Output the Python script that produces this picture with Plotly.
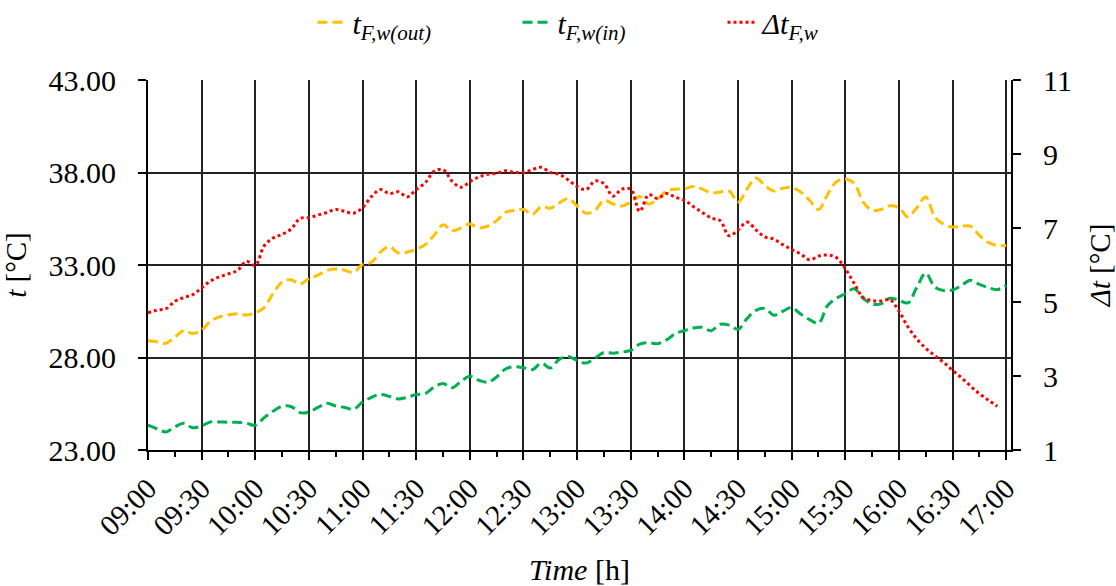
import plotly.graph_objects as go

# 5-minute readings, 09:00 .. 17:00
t_out = [28.9, 28.85, 28.77, 29.1, 29.45, 29.3, 29.49, 29.97, 30.2, 30.3, 30.37, 30.3,
         30.42, 30.7, 31.47, 32.08, 32.2, 31.96, 32.26, 32.45, 32.7, 32.78, 32.72, 32.6,
         33.03, 33.15, 33.7, 34.0, 33.65, 33.7, 33.85, 34.1, 34.6, 35.17, 34.85, 35.0,
         35.21, 35.0, 35.1, 35.4, 35.85, 35.95, 36.0, 35.74, 36.15, 36.07, 36.35, 36.6,
         36.19, 35.8, 35.95, 36.5, 36.3, 36.19, 36.4, 36.7, 36.3, 36.55, 37.0, 37.1,
         37.12, 37.25, 37.1, 36.9, 36.95, 37.0, 36.4, 37.1, 37.7, 37.3, 37.0, 37.15,
         37.2, 36.95, 36.5, 36.0, 36.8, 37.5, 37.65, 37.4, 36.4, 35.95, 36.0, 36.2,
         36.1, 35.6, 36.1, 36.67, 35.6, 35.2, 35.05, 35.1, 35.1, 34.6, 34.22, 34.05,
         34.05]
t_in = [24.34, 24.15, 23.98, 24.25, 24.45, 24.2, 24.3, 24.52, 24.52, 24.5, 24.5, 24.45,
        24.34, 24.75, 25.1, 25.36, 25.35, 25.02, 25.05, 25.3, 25.52, 25.38, 25.3, 25.2,
        25.59, 25.85, 26.0, 25.9, 25.76, 25.85, 26.0, 26.05, 26.4, 26.6, 26.36, 26.7,
        26.98, 26.77, 26.66, 26.95, 27.38, 27.5, 27.45, 27.34, 27.7, 27.43, 27.9, 28.06,
        27.84, 27.7, 27.97, 28.27, 28.23, 28.3, 28.38, 28.72, 28.8, 28.75, 28.95, 29.3,
        29.45, 29.6, 29.63, 29.45, 29.8, 29.75, 29.52, 30.1, 30.55, 30.65, 30.29, 30.5,
        30.7, 30.35, 30.05, 29.85, 30.8, 31.2, 31.45, 31.72, 31.2, 30.9, 30.9, 31.2,
        31.1, 30.95, 31.8, 32.56, 31.81, 31.62, 31.65, 31.9, 32.17, 31.95, 31.78, 31.67,
        31.9]
dt = [4.71, 4.78, 4.82, 5.02, 5.12, 5.2, 5.38, 5.57, 5.68, 5.76, 5.85, 6.1,
      5.99, 6.52, 6.73, 6.83, 6.97, 7.26, 7.28, 7.35, 7.42, 7.5, 7.45, 7.4,
      7.55, 7.85, 8.04, 7.93, 7.98, 7.84, 8.04, 8.22, 8.53, 8.58, 8.27, 8.1,
      8.25, 8.38, 8.45, 8.48, 8.55, 8.5, 8.5, 8.58, 8.64, 8.5, 8.45, 8.3,
      8.12, 8.04, 8.27, 8.2, 7.86, 8.05, 8.05, 7.45, 7.9, 7.8, 7.93, 7.83,
      7.75, 7.58, 7.42, 7.27, 7.2, 6.79, 6.95, 7.16, 6.95, 6.76, 6.7, 6.55,
      6.42, 6.3, 6.14, 6.24, 6.27, 6.2, 5.9, 5.5, 5.12, 5.04, 5.03, 5.06,
      4.75, 4.33, 4.0, 3.75, 3.55, 3.37, 3.15, 2.95, 2.73, 2.52, 2.35, 2.18]

times = ["2024-01-01 %02d:%02d:00" % (9 + (5 * i) // 60, (5 * i) % 60) for i in range(len(t_out))]

left_ticks = [23, 28, 33, 38, 43]
right_ticks = [1, 3, 5, 7, 9, 11]

FONT = "Liberation Serif"
fig = go.Figure()
fig.add_trace(go.Scatter(x=times, y=t_out, mode="lines",
                         name="<i>t</i><sub><i>F,w(out)</i></sub>",
                         line=dict(color="#FFC000", width=3, dash="10px,5px", shape="spline", smoothing=1)))
fig.add_trace(go.Scatter(x=times, y=t_in, mode="lines",
                         name="<i>t</i><sub><i>F,w(in)</i></sub>",
                         line=dict(color="#00B050", width=3, dash="10px,5px", shape="spline", smoothing=1)))
fig.add_trace(go.Scatter(x=times[:len(dt)], y=dt, mode="lines", yaxis="y2",
                         name="<i>Δt</i><sub><i>F,w</i></sub>",
                         line=dict(color="#FF0000", width=3, dash="3px,3px", shape="spline", smoothing=1)))

fig.update_layout(
    width=1116, height=586,
    margin=dict(l=147.5, r=104.5, t=80, b=136),
    paper_bgcolor="white", plot_bgcolor="white",
    font=dict(family=FONT, size=28, color="black"),
    showlegend=True,
    legend=dict(orientation="h", x=0.280, xanchor="left", xref="container",
                y=0.962, yanchor="middle", yref="container",
                font=dict(family=FONT, size=30), entrywidth=160, entrywidthmode="pixels",
                traceorder="normal", bgcolor="rgba(0,0,0,0)"),
    xaxis=dict(type="date", range=["2024-01-01 09:00:00", "2024-01-01 17:02:40"],
               dtick=1800000, tick0="2024-01-01 09:00:00", tickformat="%H:%M",
               tickangle=-45, ticks="outside", ticklen=8, tickcolor="black", tickwidth=1.5,
               showline=True, linecolor="black", linewidth=2, automargin=False,
               showgrid=True, gridcolor="#222", gridwidth=1.5,
               minor=dict(dtick=900000, ticks="outside", ticklen=5, tickcolor="black", showgrid=False),
               tickfont=dict(family=FONT, size=29),
               title=dict(text="<i>Time</i> [h]", font=dict(family=FONT, size=30), standoff=22)),
    yaxis=dict(range=[23, 43], tickvals=left_ticks, tickformat=".2f",
               ticks="outside", ticklen=8, tickcolor="black", tickwidth=1.5,
               showline=True, linecolor="black", linewidth=2, automargin=False,
               showgrid=True, gridcolor="#222", gridwidth=1.5, zeroline=False,
               tickfont=dict(family=FONT, size=30), ticklabelstandoff=16,
               title=dict(text="<i>t</i> [°C]", font=dict(family=FONT, size=29), standoff=18)),
    yaxis2=dict(range=[1, 11], tickvals=right_ticks, overlaying="y", side="right",
                ticks="outside", ticklen=8, tickcolor="black", tickwidth=1.5,
                showline=True, linecolor="black", linewidth=2, automargin=False,
                showgrid=False, zeroline=False,
                tickfont=dict(family=FONT, size=30), ticklabelstandoff=16,
                title=dict(text="<i>Δt</i> [°C]", font=dict(family=FONT, size=29), standoff=20)),
)
fig.write_html("out.html")
